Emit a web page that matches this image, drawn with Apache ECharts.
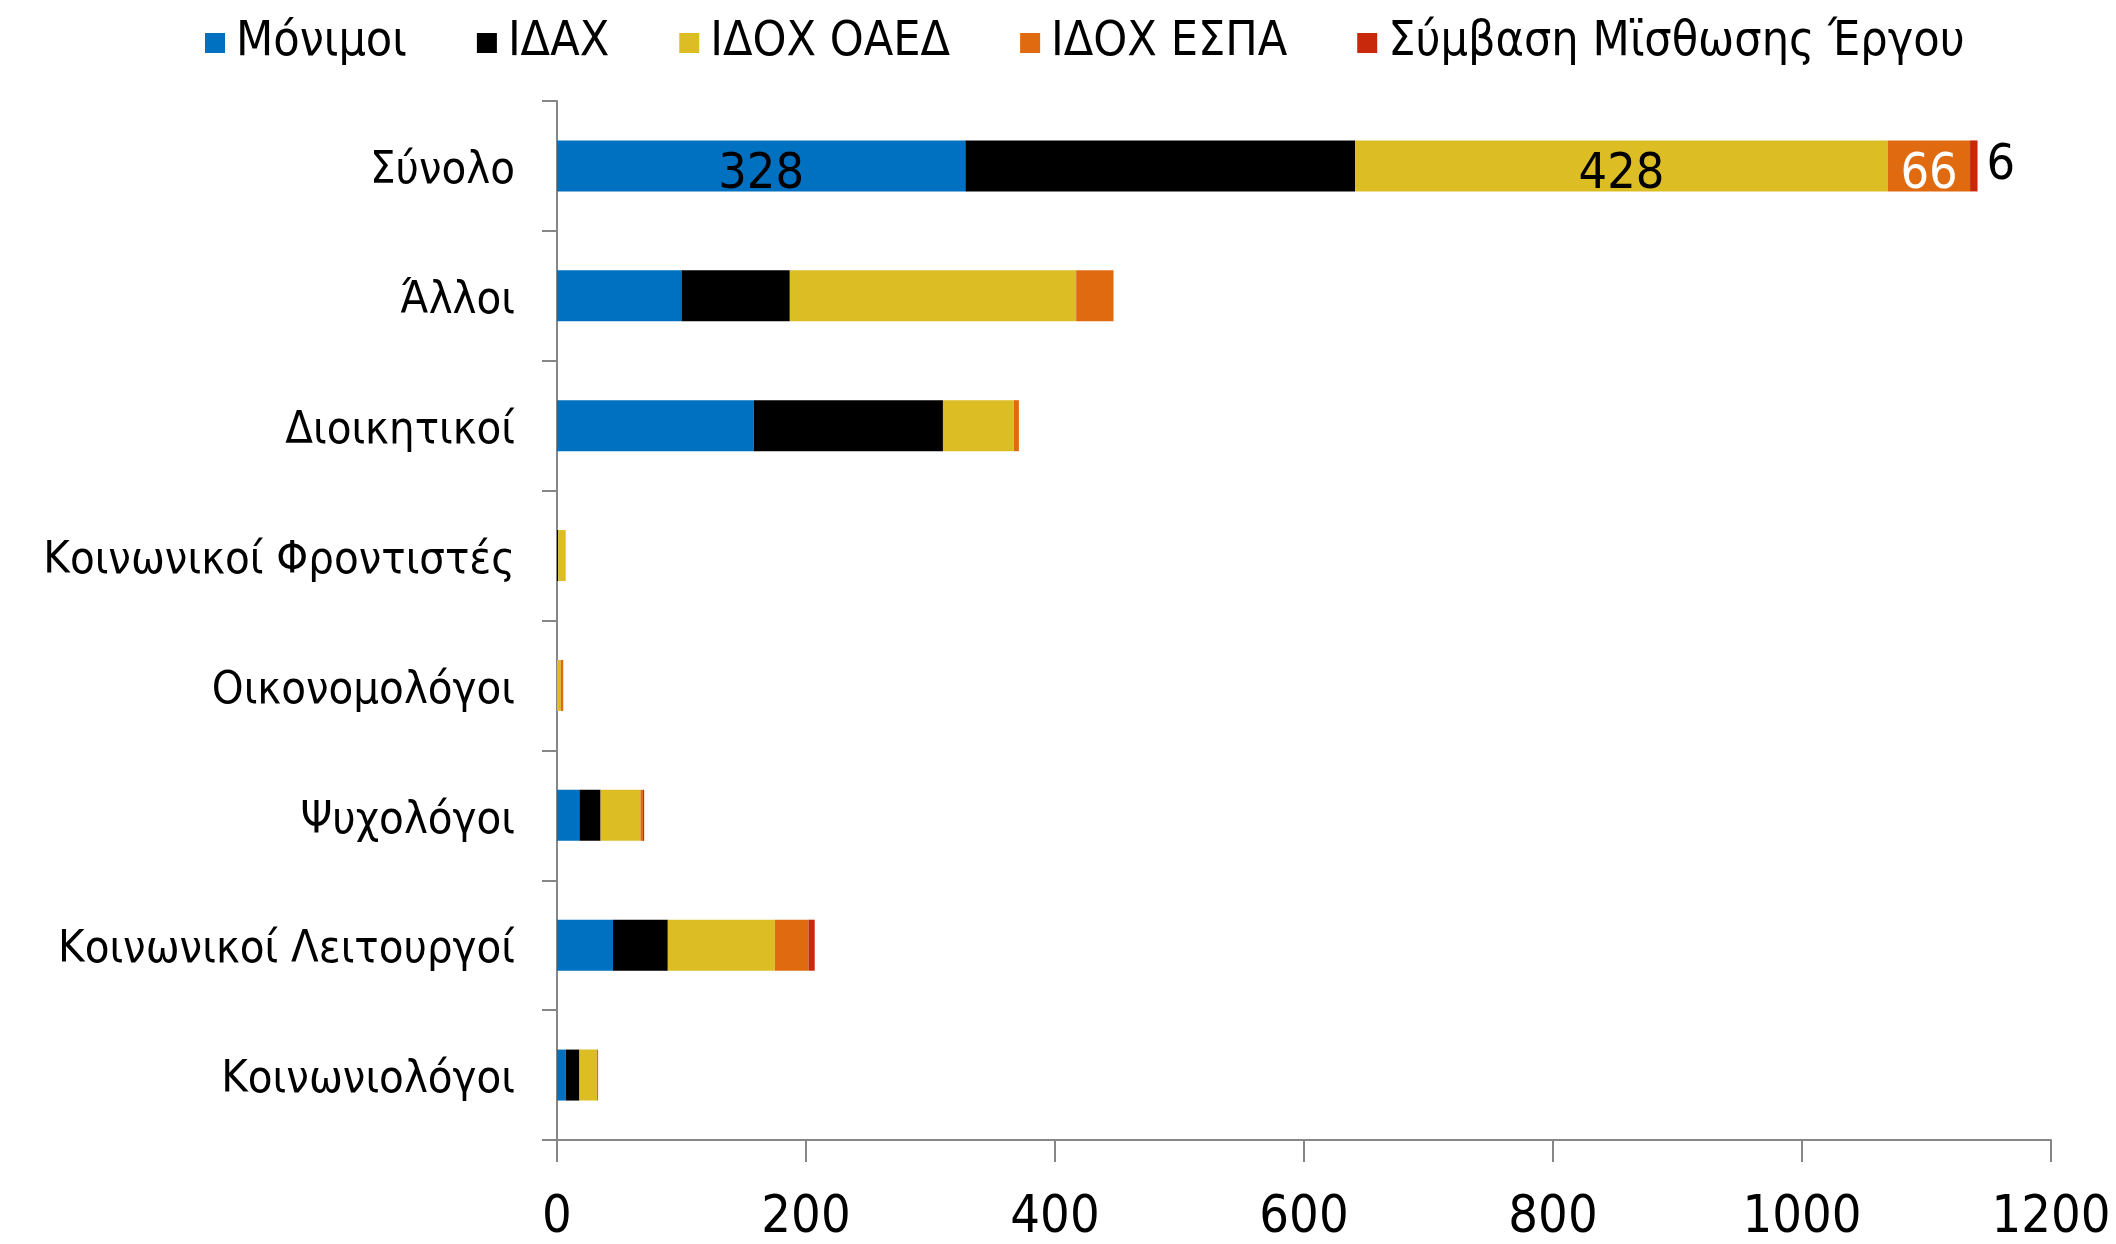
<!DOCTYPE html>
<html>
<head>
<meta charset="utf-8">
<script src="https://cdn.jsdelivr.net/npm/echarts@6/dist/echarts.min.js"></script>
<style>
html,body{margin:0;padding:0;background:#fff;}
#chart{width:2116px;height:1244px;}
</style>
</head>
<body>
<div id="chart"></div>
<script>
const categories = ['Σύνολο', 'Άλλοι', 'Διοικητικοί', 'Κοινωνικοί Φροντιστές', 'Οικονομολόγοι', 'Ψυχολόγοι', 'Κοινωνικοί Λειτουργοί', 'Κοινωνιολόγοι'];
const seriesNames = ['Μόνιμοι', 'ΙΔΑΧ', 'ΙΔΟΧ ΟΑΕΔ', 'ΙΔΟΧ ΕΣΠΑ', 'Σύμβαση Μϊσθωσης Έργου'];
const monimoi  = [328, 100, 158, 0, 0, 18, 45, 7];
const idax     = [313, 87, 152, 1, 0, 17, 44, 11];
const idoxOaed = [428, 230, 57, 6, 3, 32, 86, 14];
const idoxEspa = [66, 30, 4, 0, 2, 2, 27, 1];
const symvasi  = [6, 0, 0, 0, 0, 1, 5, 0];
const xTicks = [0, 200, 400, 600, 800, 1000, 1200];

const FONT = '"DejaVu Sans Condensed", "DejaVu Sans", sans-serif';
const colors = ['#0070C0', '#000000', '#DCBE24', '#DF6A10', '#C8280C'];
const values = [monimoi, idax, idoxOaed, idoxEspa, symvasi];
const labelCfg = [
  {show: true, position: 'inside', color: '#000', offset: [0, 9]},
  null,
  {show: true, position: 'inside', color: '#000', offset: [0, 9]},
  {show: true, position: 'inside', color: '#fff', offset: [0, 9]},
  {show: true, position: 'right', color: '#000', distance: 9, offset: [0, 0]}
];

const series = seriesNames.map((name, si) => ({
  name: name,
  type: 'bar',
  stack: 'total',
  barWidth: 51,
  itemStyle: {color: colors[si]},
  label: {show: false},
  data: values[si].map((v, i) => {
    if (i === 0 && labelCfg[si]) {
      return {value: v, label: Object.assign({fontSize: 50, fontFamily: FONT}, labelCfg[si])};
    }
    return v;
  })
}));

const chart = echarts.init(document.getElementById('chart'), null, {renderer: 'canvas'});
chart.setOption({
  animation: false,
  backgroundColor: '#fff',
  color: colors,
  legend: {
    data: seriesNames,
    left: 200,
    top: 14,
    itemWidth: 20,
    itemHeight: 20,
    itemGap: 70,
    icon: 'rect',
    textStyle: {fontSize: 48, fontFamily: FONT, color: '#000', padding: [0, 0, 0, 6]}
  },
  grid: {left: 557, right: 65, top: 101, bottom: 100, containLabel: false},
  xAxis: {
    type: 'value',
    min: xTicks[0],
    max: xTicks[xTicks.length - 1],
    interval: xTicks[1] - xTicks[0],
    splitLine: {show: false},
    axisLine: {show: true, lineStyle: {color: '#868686', width: 2}},
    axisTick: {show: true, length: 22, lineStyle: {color: '#868686', width: 2}},
    axisLabel: {fontSize: 52, fontFamily: FONT, color: '#000', margin: 52,
      formatter: v => String(v)}
  },
  yAxis: {
    type: 'category',
    data: categories,
    inverse: true,
    axisLine: {show: true, lineStyle: {color: '#868686', width: 2}},
    axisTick: {show: true, length: 15, lineStyle: {color: '#868686', width: 2}},
    axisLabel: {
      fontSize: 45, fontFamily: FONT, color: '#000', margin: 42,
      formatter: v => '{a|' + v + '}',
      rich: {a: {fontSize: 45, fontFamily: FONT, color: '#000', padding: [11, 0, 0, 0]}}
    }
  },
  series: series
});
</script>
</body>
</html>
